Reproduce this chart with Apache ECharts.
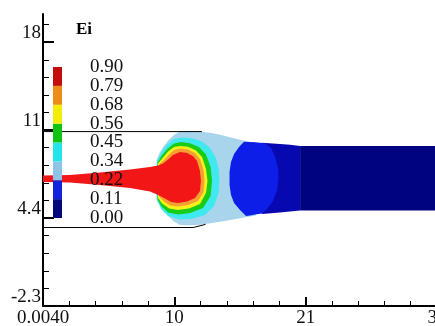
<!DOCTYPE html>
<html>
<head>
<meta charset="utf-8">
<script src="https://cdn.jsdelivr.net/npm/echarts@6/dist/echarts.min.js"></script>
<style>
  html, body { margin: 0; background: #fff; }
  #chart { width: 435px; height: 326px; }
</style>
</head>
<body>
<div id="chart"></div>
<script>
// axis ticks / labels
const xTickLabels = ['0.0040', '10', '21', '32'];
const yTickValues = [-2.3, 4.4, 11.1, 17.8];
const yTickLabels = ['-2.3', '4.4', '11', '18'];
const yMinorTicks = [-0.96, 0.38, 1.72, 3.06, 5.74, 7.08, 8.42, 9.76, 12.44, 13.78, 15.12, 16.46, 19.14];

// contour legend
const eiLevels = ['0.00', '0.11', '0.22', '0.34', '0.45', '0.56', '0.68', '0.79', '0.90'];
const legendColors = ['#00087c', '#1424dc', '#90c4e4', '#22e4ea', '#12c412', '#f2ee0a', '#ee8a18', '#c40c0c'];

// contour zones, outer to inner  [x, y]
const lightBlueZone = [[9.22, 8.82], [9.50, 9.43], [9.83, 9.92], [10.24, 10.38], [10.68, 10.76], [11.13, 10.99], [11.94, 11.01], [12.75, 10.98], [13.57, 10.91], [14.38, 10.74], [15.19, 10.55], [16.0, 10.36], [16.82, 10.19], [17.30, 10.15], [17.30, 4.59], [16.82, 4.52], [16.0, 4.39], [15.19, 4.25], [14.38, 4.12], [13.57, 4.0], [12.75, 3.90], [11.94, 3.85], [11.13, 3.88], [10.64, 4.14], [10.24, 4.48], [9.83, 4.94], [9.50, 5.39], [9.22, 5.77]];
const cyanZone = [[9.26, 8.74], [9.63, 9.43], [10.07, 10.0], [10.64, 10.42], [11.29, 10.53], [12.10, 10.48], [12.92, 10.23], [13.57, 9.73], [14.05, 8.97], [14.28, 8.06], [14.32, 7.30], [14.26, 6.31], [13.89, 5.32], [13.16, 4.63], [12.10, 4.34], [11.13, 4.29], [10.16, 4.55], [9.59, 5.09], [9.26, 5.77]];
const greenZone = [[9.30, 8.63], [9.67, 9.20], [10.16, 9.73], [10.64, 10.08], [11.21, 10.19], [11.94, 10.11], [12.67, 9.81], [13.24, 9.24], [13.61, 8.29], [13.73, 7.22], [13.61, 6.08], [13.0, 5.16], [11.94, 4.78], [10.97, 4.67], [10.16, 4.82], [9.59, 5.32], [9.30, 5.85]];
const yellowZone = [[9.34, 8.55], [9.75, 9.01], [10.16, 9.47], [10.64, 9.81], [11.13, 9.90], [11.78, 9.83], [12.43, 9.54], [12.92, 9.05], [13.24, 8.13], [13.36, 7.22], [13.24, 6.31], [12.75, 5.47], [11.86, 5.13], [10.97, 5.01], [10.24, 5.13], [9.67, 5.51], [9.34, 5.93]];
const orangeZone = [[9.42, 8.48], [9.83, 8.82], [10.24, 9.24], [10.64, 9.58], [11.13, 9.70], [11.78, 9.62], [12.35, 9.35], [12.75, 8.90], [13.04, 8.06], [13.12, 7.22], [13.04, 6.38], [12.59, 5.70], [11.78, 5.39], [10.97, 5.28], [10.32, 5.35], [9.83, 5.66], [9.42, 6.04]];
const redZone = [[0, 7.64], [2.19, 7.68], [4.63, 7.87], [7.07, 8.10], [8.69, 8.29], [9.34, 8.40], [9.75, 8.55], [10.16, 8.86], [10.56, 9.20], [11.13, 9.43], [11.70, 9.35], [12.19, 9.12], [12.51, 8.74], [12.75, 7.98], [12.83, 7.22], [12.75, 6.46], [12.35, 5.93], [11.70, 5.66], [10.97, 5.54], [10.40, 5.62], [9.91, 5.89], [9.34, 6.15], [8.69, 6.42], [7.07, 6.69], [4.63, 6.92], [2.19, 7.11], [0, 7.14]];
const midBlueZone = [[17.79, 10.13], [19.25, 10.04], [20.06, 9.98], [20.88, 9.89], [20.88, 4.97], [20.06, 4.90], [19.25, 4.82], [17.79, 4.71]];
const navyZone = [[20.88, 9.89], [32, 9.89], [32, 4.97], [20.88, 4.97]];
const blueZone = [[16.33, 10.21], [17.22, 10.17], [18.03, 10.11], [18.52, 9.73], [18.85, 9.05], [19.09, 8.21], [19.13, 7.45], [19.01, 6.53], [18.68, 5.70], [18.20, 5.09], [17.79, 4.75], [17.22, 4.67], [16.82, 4.59], [16.49, 4.55], [16.0, 5.01], [15.52, 5.54], [15.27, 6.15], [15.15, 6.92], [15.15, 7.91], [15.27, 8.67], [15.52, 9.28], [15.92, 9.81]];

// chamber walls
const upperWall = [[0, 10.99], [12.9, 10.99]];
const lowerWall = [[0, 3.68], [12.2, 3.68], [13.2, 3.92]];

const font = 'Liberation Serif, Times New Roman, serif';

const chart = echarts.init(document.getElementById('chart'));

function zone(pts, color) {
  return {
    type: 'custom',
    xAxisIndex: 0,
    yAxisIndex: 0,
    data: [0],
    silent: true,
    renderItem: function (params, api) {
      return {
        type: 'polygon',
        shape: { points: pts.map(p => api.coord(p)) },
        style: { fill: color }
      };
    }
  };
}

function wall(pts) {
  return {
    type: 'line',
    xAxisIndex: 0,
    yAxisIndex: 0,
    data: pts,
    symbol: 'none',
    silent: true,
    lineStyle: { color: '#000', width: 1 }
  };
}

let option = {
  animation: false,
  title: {
    text: 'Ei',
    left: 76,
    top: 21,
    padding: 0,
    textStyle: { fontFamily: font, fontWeight: 'bold', fontSize: 17, color: '#000' }
  },
  grid: [
    { left: 43, right: -2, top: 14, bottom: 20, outerBoundsMode: 'none', containLabel: false },
    { left: 53, top: 67, width: 9, height: 151, outerBoundsMode: 'none', containLabel: false }
  ],
  xAxis: [
    {
      type: 'value',
      gridIndex: 0,
      min: 0,
      max: 32,
      interval: 32 / 3,
      axisLine: { onZero: false, lineStyle: { color: '#000', width: 2 } },
      axisTick: { inside: true, length: 9, lineStyle: { color: '#000', width: 2 } },
      minorTick: { show: true, splitNumber: 5, length: 5, lineStyle: { color: '#000', width: 1 } },
      splitLine: { show: false },
      axisLabel: {
        margin: 3,
        color: '#111',
        fontFamily: font,
        fontSize: 19,
        showMinLabel: true,
        showMaxLabel: true,
        formatter: (v, i) => xTickLabels[i] || ''
      }
    },
    { type: 'value', gridIndex: 1, min: 0, max: 1, show: false }
  ],
  yAxis: [
    {
      type: 'value',
      gridIndex: 0,
      position: 'left',
      min: -2.3,
      max: 19.95,
      axisLine: { onZero: false, lineStyle: { color: '#000', width: 2 } },
      axisTick: { inside: true, length: 11, customValues: yTickValues, lineStyle: { color: '#000', width: 2 } },
      splitLine: { show: false },
      axisLabel: {
        customValues: yTickValues,
        margin: 2,
        color: '#111',
        fontFamily: font,
        fontSize: 19,
        verticalAlign: 'bottom',
        lineHeight: 18,
        formatter: v => yTickLabels[yTickValues.indexOf(v)]
      }
    },
    {
      type: 'value',
      gridIndex: 0,
      position: 'left',
      offset: 0,
      min: -2.3,
      max: 19.95,
      axisLine: { show: false },
      axisTick: { inside: true, length: 6, customValues: yMinorTicks, lineStyle: { color: '#000', width: 1 } },
      axisLabel: { show: false },
      splitLine: { show: false }
    },
    {
      type: 'category',
      gridIndex: 1,
      position: 'right',
      data: eiLevels,
      boundaryGap: false,
      z: 10,
      axisLine: { show: false },
      axisTick: { show: false },
      splitLine: { show: false },
      axisLabel: {
        interval: 0,
        margin: 28,
        color: '#111',
        fontFamily: font,
        fontSize: 19
      }
    }
  ],
  series: [
    zone(lightBlueZone, '#a8d4ec'),
    zone(cyanZone, '#40e8f0'),
    zone(greenZone, '#18cc18'),
    zone(yellowZone, '#f8f018'),
    zone(orangeZone, '#f5a033'),
    zone(redZone, '#f21616'),
    zone(midBlueZone, '#0808b0'),
    zone(navyZone, '#00037f'),
    zone(blueZone, '#0c1ee8'),
    wall(upperWall),
    wall(lowerWall),
    {
      type: 'custom',
      xAxisIndex: 1,
      yAxisIndex: 2,
      z: 5,
      silent: true,
      data: legendColors.map((c, i) => i),
      renderItem: function (params, api) {
        const i = params.dataIndex;
        const p0 = api.coord([0, i]);
        const p1 = api.coord([1, i + 1]);
        return {
          type: 'rect',
          shape: { x: p0[0], y: p1[1], width: p1[0] - p0[0], height: p0[1] - p1[1] },
          style: { fill: legendColors[i] }
        };
      }
    }
  ]
};

option && chart.setOption(option);
</script>
</body>
</html>
